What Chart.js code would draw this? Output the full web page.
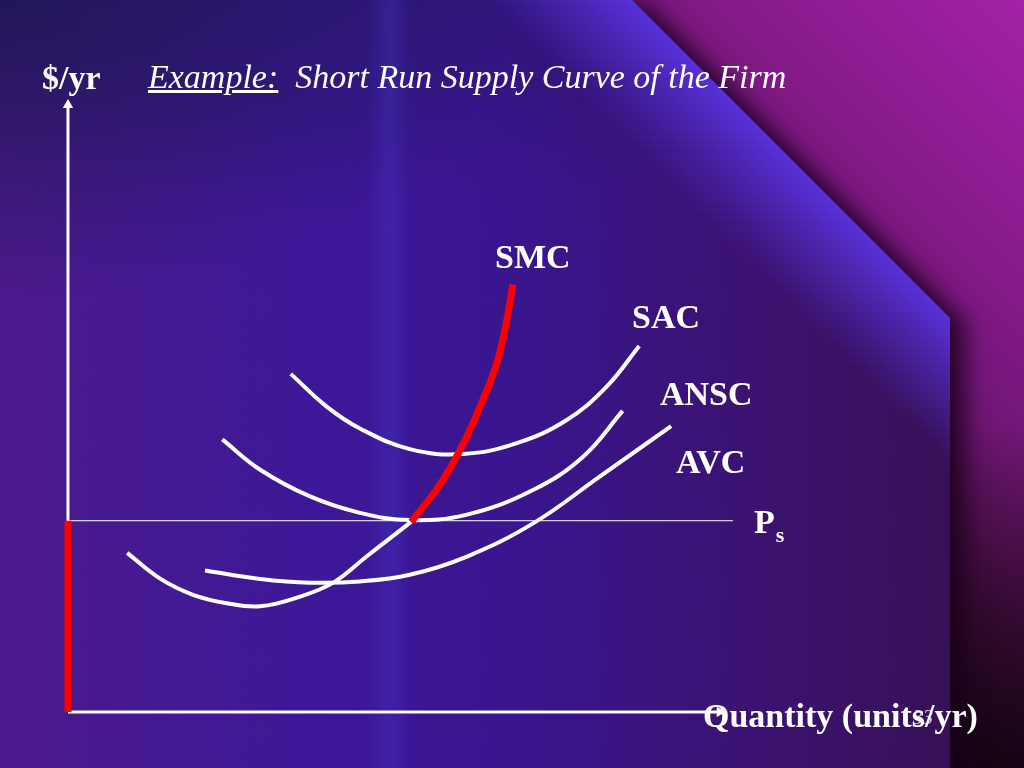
<!DOCTYPE html>
<html>
<head>
<meta charset="utf-8">
<script src="https://cdn.jsdelivr.net/npm/chart.js@4.4.1/dist/chart.umd.min.js"></script>
<style>
  html, body { margin:0; padding:0; width:1024px; height:768px; overflow:hidden; }
  body { position:relative;
    background:
      linear-gradient(180deg, rgba(0,0,0,0) 55%, rgba(10,0,8,0.75) 100%),
      linear-gradient(45deg, #0e0308 0%, #1e0618 45%, #4a1045 62%, #74177a 76%, #8e1c92 88%, #a222a6 100%); }
  #wrap { position:absolute; left:0; top:0; width:1024px; height:768px;
    filter: drop-shadow(14px 4px 12px rgba(25,0,25,0.9)); }
  #panel { position:absolute; left:0; top:0; width:1024px; height:768px;
    clip-path: polygon(0 0, 632px 0, 950px 318px, 950px 768px, 0 768px);
    background:
      repeating-linear-gradient(180deg, rgba(0,0,0,0) 0px, rgba(0,0,0,0) 6px, rgba(0,0,0,0.05) 7px, rgba(0,0,0,0) 9px),
      linear-gradient(45deg, rgba(0,0,0,0) 70%, rgba(92,52,232,0.9) 78.2%),
      linear-gradient(90deg, rgba(0,0,0,0) 365px, rgba(70,60,210,0.3) 390px, rgba(0,0,0,0) 412px),
      radial-gradient(ellipse 520px 300px at 0px 0px, rgba(25,22,78,0.75) 0%, rgba(0,0,0,0) 100%),
      linear-gradient(180deg, rgba(25,20,75,0.3) 0%, rgba(0,0,0,0) 25%),
      linear-gradient(90deg, #4c1a8c 0%, #3e189a 30%, #3a1590 50%, #3c1270 75%, #35104e 100%);
  }
  canvas { position:absolute; left:0; top:0; }
  .t { position:absolute; color:#fff; font-family:"Liberation Serif","Times New Roman",serif; white-space:nowrap; line-height:1; }
  .b { font-weight:bold; }
</style>
</head>
<body>
<div id="wrap"><div id="panel"></div></div>
<canvas id="c" width="1024" height="768"></canvas>

<div class="t b" style="left:42px; top:61px; font-size:34px;">$/yr</div>
<div class="t" style="left:148px; top:60px; font-size:34px; font-style:italic;"><span style="text-decoration:underline;">Example:</span>&nbsp; Short Run Supply Curve of the Firm</div>
<div class="t b" style="left:495px; top:240px; font-size:34px;">SMC</div>
<div class="t b" style="left:632px; top:300px; font-size:34px;">SAC</div>
<div class="t b" style="left:660px; top:377px; font-size:34px;">ANSC</div>
<div class="t b" style="left:676px; top:445px; font-size:34px;">AVC</div>
<div class="t b" style="left:754px; top:505px; font-size:34px;">P<span style="font-size:22px; position:relative; top:9px; left:1px;">s</span></div>
<div class="t b" style="left:703px; top:699px; font-size:34px;">Quantity (units/yr)</div>
<div class="t" style="left:913px; top:707px; font-size:20px; font-style:italic; opacity:0.8;">33</div>

<script>
// Data (x: quantity units 0-100, y: $/yr units 0-100)
const priceShutdown = 31.5;
const smcLowX  = [8.9, 13.8, 18.8, 23.9, 28.9, 34.9, 39.9, 44.9, 48.4, 51.6];
const smcLowY  = [26.2, 22.0, 19.3, 17.9, 17.4, 19.0, 21.3, 25.6, 28.6, 31.3];
const smcHighX = [51.6, 55.4, 57.9, 60.0, 62.2, 64.5, 66.0, 66.9];
const smcHighY = [31.3, 36.6, 41.0, 45.4, 50.9, 57.5, 64.6, 70.4];
const sacX  = [33.5, 38.9, 43.9, 51.4, 59.4, 67.5, 75.0, 81.0, 85.9];
const sacY  = [55.7, 50.3, 46.7, 43.3, 42.5, 44.3, 48.1, 53.6, 60.3];
const anscX = [23.2, 28.9, 36.4, 43.9, 51.4, 60.0, 70.0, 77.5, 83.4];
const anscY = [44.9, 39.9, 35.5, 32.8, 31.6, 32.5, 36.6, 42.1, 49.6];
const avcX  = [20.6, 28.9, 36.4, 43.9, 51.4, 60.0, 70.0, 80.0, 90.7];
const avcY  = [23.3, 21.9, 21.3, 21.5, 22.6, 25.6, 31.1, 38.8, 47.1];
const psX   = [0, 100];
const yAxisTop = 100;
const xAxisEnd = 98;

const pts = (xs, ys) => xs.map((x, i) => ({ x, y: ys[i] }));
const curve = (xs, ys, color, w) => ({
  data: pts(xs, ys), borderColor: color, borderWidth: w,
  pointRadius: 0, tension: 0.4, fill: false, borderCapStyle: 'butt', borderJoinStyle: 'round', clip: false
});

// Chart.js draws the first dataset on top, so red marks come first.
new Chart(document.getElementById('c'), {
  type: 'line',
  data: {
    datasets: [
      { data: [{x:0, y:0}, {x:0, y:priceShutdown}], borderColor: '#ff0000', borderWidth: 7, pointRadius: 0, tension: 0, clip: false },
      curve(smcHighX, smcHighY, '#ff0000', 7),
      curve(smcLowX, smcLowY, '#ffffff', 4),
      curve(sacX, sacY, '#ffffff', 4),
      curve(anscX, anscY, '#ffffff', 4),
      curve(avcX, avcY, '#ffffff', 4),
      { data: [{x:0, y:0}, {x:0, y:yAxisTop}], borderColor: '#ffffff', borderWidth: 3, tension: 0,
        pointRadius: [0, 6], pointStyle: 'triangle', pointBackgroundColor: '#ffffff', pointBorderColor: '#ffffff', pointBorderWidth: 0, clip: false },
      { data: [{x:0, y:0}, {x:xAxisEnd, y:0}], borderColor: '#ffffff', borderWidth: 3, tension: 0,
        pointRadius: [0, 6], pointStyle: 'triangle', pointRotation: 90, pointBackgroundColor: '#ffffff', pointBorderColor: '#ffffff', pointBorderWidth: 0, clip: false },
      { data: pts(psX, [priceShutdown, priceShutdown]), borderColor: '#ffffff', borderWidth: 1, pointRadius: 0, tension: 0, clip: false }
    ]
  },
  options: {
    responsive: false, animation: false,
    layout: { padding: { left: 58, right: 291, top: 105, bottom: 47 } },
    plugins: { legend: { display: false }, tooltip: { enabled: false } },
    scales: {
      x: { type: 'linear', min: -1.5, max: 100, display: false },
      y: { type: 'linear', min: -1.5, max: 100, display: false }
    }
  }
});
</script>
</body>
</html>
